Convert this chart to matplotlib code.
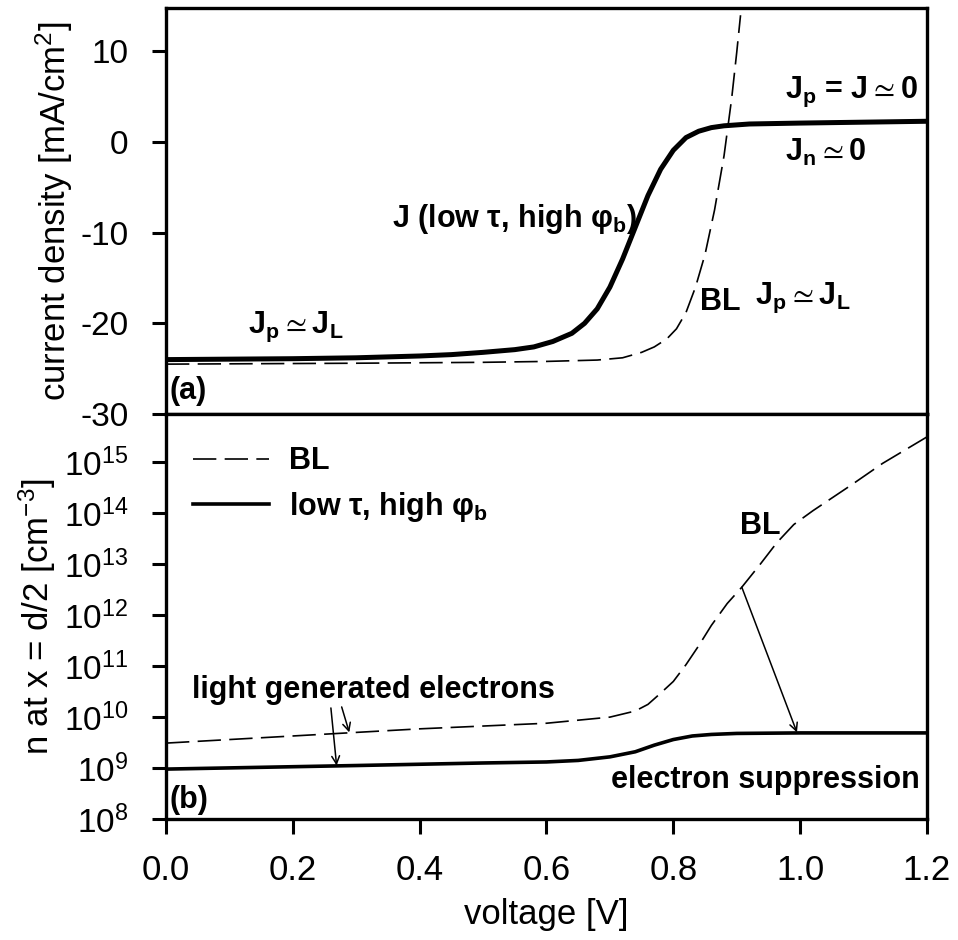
import numpy as np
import matplotlib
matplotlib.use("Agg")
import matplotlib.pyplot as plt
from matplotlib.ticker import FixedLocator, FuncFormatter

plt.rcParams['font.family'] = ['Liberation Sans', 'DejaVu Sans']
plt.rcParams['mathtext.default'] = 'regular'
plt.rcParams['axes.unicode_minus'] = False

# ---- (a) current density vs voltage ----
v_j = [0.0, 0.1, 0.2, 0.3, 0.4, 0.45, 0.5, 0.55, 0.58, 0.61, 0.64, 0.66,
       0.68, 0.70, 0.72, 0.74, 0.76, 0.78, 0.80, 0.82, 0.84, 0.86, 0.88,
       0.92, 1.0, 1.1, 1.2]
j_low_tau = [-24.0, -23.95, -23.9, -23.8, -23.6, -23.45, -23.2, -22.9,
             -22.6, -22.0, -21.1, -20.0, -18.4, -16.0, -12.9, -9.4, -5.9,
             -3.0, -0.9, 0.5, 1.2, 1.6, 1.8, 2.0, 2.1, 2.2, 2.3]

v_bl = [0.0, 0.3, 0.5, 0.6, 0.68, 0.72, 0.75, 0.77, 0.79, 0.805, 0.82,
        0.835, 0.85, 0.865, 0.88, 0.892, 0.900, 0.906]
j_bl = [-24.5, -24.4, -24.3, -24.2, -24.05, -23.8, -23.2, -22.6, -21.7,
        -20.6, -18.8, -16.0, -12.4, -7.5, -1.5, 4.8, 9.9, 14.0]

# ---- (b) electron density at mid-device vs voltage (log10 values) ----
v_n_bl = [0.0, 0.2, 0.4, 0.6, 0.70, 0.74, 0.76, 0.78, 0.80, 0.82, 0.84,
          0.86, 0.885, 0.908, 0.937, 0.963, 0.99, 1.02, 1.05, 1.08, 1.13,
          1.2]
logn_bl = [9.49, 9.63, 9.77, 9.88, 10.0, 10.12, 10.25, 10.47, 10.7, 11.03,
           11.4, 11.8, 12.23, 12.55, 13.0, 13.42, 13.78, 14.05, 14.3, 14.55,
           14.98, 15.5]

v_n_low = [0.0, 0.3, 0.5, 0.6, 0.65, 0.70, 0.74, 0.77, 0.80, 0.83, 0.86,
           0.90, 1.0, 1.2]
logn_low = [8.98, 9.05, 9.1, 9.12, 9.15, 9.22, 9.32, 9.45, 9.56, 9.63, 9.66,
            9.68, 9.69, 9.69]

x_ticks = [0.0, 0.2, 0.4, 0.6, 0.8, 1.0, 1.2]
j_ticks = [-30, -20, -10, 0, 10]
n_tick_exp = [8, 9, 10, 11, 12, 13, 14, 15]

fig = plt.figure(figsize=(9.58, 9.40), dpi=100)
ax1 = fig.add_axes([0.1733, 0.5596, 0.7943, 0.4319])
ax2 = fig.add_axes([0.1733, 0.1287, 0.7943, 0.4309], sharex=ax1)

spine_w = 2.4
dash = (14, 5)
tick_fs = 24

for ax in (ax1, ax2):
    for s in ax.spines.values():
        s.set_linewidth(spine_w)
    ax.tick_params(direction='out', width=2.2, length=10, labelsize=tick_fs,
                   pad=17)

# panel (a)
ax1.plot(v_j, j_low_tau, color='black', lw=3.6, solid_capstyle='round',
         solid_joinstyle='round')
ax1.plot(v_bl, j_bl, color='black', lw=1.2, dashes=dash)
ax1.set_xlim(0, 1.2)
ax1.set_ylim(-30, 14.8)
ax1.set_yticks(j_ticks)
ax1.tick_params(axis='x', which='both', bottom=False, labelbottom=False)
ax1.set_ylabel('current density [mA/cm$^2$]', fontsize=25, labelpad=4)

SIM = r'$\simeq$'
tw = dict(fontsize=22, fontweight='bold', color='black')
ax1.text(0.356, -8.5, 'J (low τ, high φ$_b$)', ha='left', va='center', **tw)
ax1.text(1.186, 5.5, 'J$_p$ = J' + SIM + '0', ha='right', va='center', **tw)
ax1.text(0.976, -1.1, 'J$_n$' + SIM + '0', ha='left', va='center', **tw)
ax1.text(0.842, -17.6, 'BL', ha='left', va='center', **tw)
ax1.text(0.929, -17.2, 'J$_p$' + SIM + 'J$_L$', ha='left', va='center', **tw)
ax1.text(0.129, -20.4, 'J$_p$' + SIM + 'J$_L$', ha='left', va='center', **tw)
ax1.text(0.006, -27.5, '(a)', ha='left', va='center', **tw)

# panel (b)
n_bl = 10.0 ** np.array(logn_bl)
n_low = 10.0 ** np.array(logn_low)
ax2.plot(v_n_bl, n_bl, color='black', lw=1.2, dashes=dash, label='BL')
ax2.plot(v_n_low, n_low, color='black', lw=2.6, solid_joinstyle='round',
         label='low τ, high φ$_b$')
ax2.set_yscale('log')
ax2.set_ylim(1e8, 10 ** 15.95)
ax2.yaxis.set_major_locator(FixedLocator([10.0 ** e for e in n_tick_exp]))
ax2.yaxis.set_minor_locator(FixedLocator([]))
ax2.yaxis.set_major_formatter(
    FuncFormatter(lambda y, _: r'$10^{%d}$' % round(np.log10(y))))
ax2.set_xticks(x_ticks)
ax2.xaxis.set_major_formatter(FuncFormatter(lambda x, _: '%.1f' % x))
ax2.tick_params(axis='x', length=11, pad=14, labelsize=25)
ax2.set_xlabel('voltage [V]', fontsize=25, labelpad=8)
ax2.set_ylabel('n at x = d/2 [cm$^{-3}$]', fontsize=25, labelpad=4)

leg = ax2.legend(loc='upper left', bbox_to_anchor=(0.035, 0.92),
                 frameon=False, borderpad=0, borderaxespad=0,
                 handlelength=2.5, handletextpad=0.65, labelspacing=0.45,
                 prop=dict(size=22, weight='bold'))

ax2.text(0.041, 10 ** 10.53, 'light generated electrons', ha='left',
         va='center', **tw)
ax2.text(0.905, 10 ** 13.75, 'BL', ha='left', va='center', **tw)
ax2.text(1.189, 10 ** 8.76, 'electron suppression', ha='right', va='center',
         **tw)
ax2.text(0.006, 10 ** 8.37, '(b)', ha='left', va='center', **tw)

arrow = dict(arrowstyle='->', color='black', lw=1.1, mutation_scale=14,
             shrinkA=0, shrinkB=0)
ax2.annotate('', xy=(0.995, 10 ** 9.70), xytext=(0.908, 10 ** 12.55),
             arrowprops=arrow)
ax2.annotate('', xy=(0.269, 10 ** 9.05), xytext=(0.26, 10 ** 10.18),
             arrowprops=arrow)
ax2.annotate('', xy=(0.289, 10 ** 9.70), xytext=(0.277, 10 ** 10.2),
             arrowprops=arrow)

fig.savefig('out.png', dpi=100)
